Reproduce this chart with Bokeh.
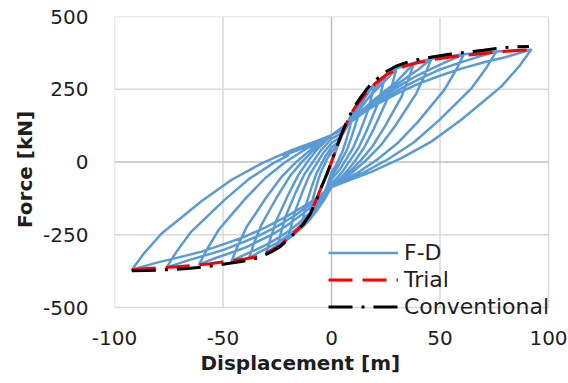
import numpy as np
from bokeh.plotting import figure
from bokeh.models import FixedTicker, Legend, LegendItem, Range1d, Title
from bokeh.embed import file_html
from bokeh.resources import INLINE

# ---- Force-displacement record, one closed cycle per displacement amplitude ----
START_X = [0, 5]
START_F = [0, 95]

CYC10_X = [10, 8.5, 6.5, 5, 2, 0, -2.2, -4.4, -6.5, -8.7, -10, -8.5, -6.5, -5, -2, 0, 2, 4, 6, 8, 10]
CYC10_F = [178, 120, 69, 35, -12, -35, -86, -124, -150, -169, -182, -123, -71, -37, 11, 35, 50, 80, 112, 145, 178]

CYC14_X = [14, 11.9, 9.1, 7, 2.8, 0, -3.1, -6.2, -9.1, -12.2, -14, -11.9, -9.1, -7, -2.8, 0, 3, 6, 9, 12, 14]
CYC14_F = [220, 148, 83, 40, -18, -48, -110, -155, -186, -209, -225, -151, -85, -41, 20, 50, 68, 105, 150, 192, 220]

CYC20_X = [20, 17, 13, 10, 4, 0, -4.4, -8.8, -13, -17.4, -20, -17, -13, -10, -4, 0, 4, 8, 12, 16, 20]
CYC20_F = [270, 181, 102, 49, -24, -60, -131, -182, -218, -244, -262, -174, -95, -43, 29, 65, 85, 130, 180, 228, 270]

CYC25_X = [25, 21.3, 16.3, 12.5, 5, 0, -5.5, -11, -16.3, -21.8, -25, -21.3, -16.3, -12.5, -5, 0, 5, 10, 15, 20, 25]
CYC25_F = [300, 199, 109, 49, -34, -75, -150, -205, -243, -271, -290, -190, -101, -42, 39, 80, 100, 150, 200, 250, 300]

CYC30_X = [30, 28.2, 25.5, 22.5, 19.5, 15, 10.5, 6, 2.4, 0,
           -3.3, -6.6, -9.9, -13.2, -16.5, -19.5, -22.8, -26.1, -30,
           -28.2, -25.5, -22.5, -19.5, -15, -10.5, -6, -2.4, 0,
           3.3, 6.6, 9.9, 13.2, 16.5, 19.5, 22.8, 26.1, 30]
CYC30_F = [322, 273, 212, 163, 114, 49, 0, -41, -68, -86,
           -129, -165, -197, -223, -244, -262, -278, -292, -312,
           -264, -203, -154, -106, -41, 7, 48, 74, 92,
           105, 125, 155, 185, 215, 240, 265, 290, 322]

CYC38_X = [38, 35.7, 32.3, 28.5, 24.7, 19, 13.3, 7.6, 3, 0,
           -4.2, -8.4, -12.5, -16.7, -20.9, -24.7, -28.9, -33.1, -38,
           -35.7, -32.3, -28.5, -24.7, -19, -13.3, -7.6, -3, 0,
           4.2, 8.4, 12.5, 16.7, 20.9, 24.7, 28.9, 33.1, 38]
CYC38_F = [340, 289, 225, 174, 123, 55, 4, -39, -67, -86,
           -132, -171, -206, -234, -257, -276, -293, -309, -330,
           -279, -216, -165, -115, -47, 3, 46, 73, 92,
           108, 135, 165, 195, 222, 245, 268, 300, 340]

CYC46_X = [46, 43.2, 39.1, 34.5, 29.9, 23, 16.1, 9.2, 3.7, 0,
           -5.1, -10.1, -15.2, -20.2, -25.3, -29.9, -35, -40, -46,
           -43.2, -39.1, -34.5, -29.9, -23, -16.1, -9.2, -3.7, 0,
           5.1, 10.1, 15.2, 20.2, 25.3, 29.9, 35, 40, 46]
CYC46_F = [355, 302, 236, 183, 130, 60, 7, -38, -66, -86,
           -134, -175, -211, -240, -264, -284, -302, -318, -340,
           -288, -223, -172, -120, -51, 1, 45, 73, 92,
           118, 150, 182, 212, 240, 265, 292, 318, 355]

CYC61_X = [61, 57.3, 51.9, 45.8, 39.7, 30.5, 21.4, 12.2, 4.9, 0,
           -6.7, -13.4, -20.1, -26.8, -33.6, -39.7, -46.4, -53.1, -61,
           -57.3, -51.9, -45.8, -39.7, -30.5, -21.4, -12.2, -4.9, 0,
           6.7, 13.4, 20.1, 26.8, 33.6, 39.7, 46.4, 53.1, 61]
CYC61_F = [370, 315, 247, 192, 137, 65, 10, -36, -66, -86,
           -137, -179, -216, -247, -272, -294, -312, -329, -352,
           -299, -232, -179, -126, -55, -1, 43, 72, 92,
           125, 165, 205, 240, 272, 298, 322, 345, 370]

CYC76_X = [76, 71.4, 64.6, 57, 49.4, 38, 26.6, 15.2, 6.1, 0,
           -8.4, -16.7, -25.1, -33.4, -41.8, -49.4, -57.8, -66.1, -76,
           -71.4, -64.6, -57, -49.4, -38, -26.6, -20, -22, -15.2, -6.1, 0,
           8.4, 16.7, 25.1, 33.4, 41.8, 49.4, 57.8, 66.1, 76]
CYC76_F = [380, 324, 254, 198, 142, 68, 12, -35, -65, -86,
           -138, -183, -221, -253, -279, -301, -320, -338, -362,
           -308, -239, -185, -131, -58, -3, 22, 22, 42, 72, 92,
           135, 180, 222, 258, 290, 316, 338, 358, 380]

CYC92_X = [92, 86.5, 78.2, 69, 59.8, 46, 32.2, 18.4, 7.4, 0,
           -10.1, -20.2, -30.4, -40.5, -50.6, -59.8, -69.9, -80, -92,
           -86.5, -78.2, -69, -59.8, -46, -32.2, -18.4, -7.4, 0,
           10.1, 20.2, 30.4, 40.5, 50.6, 59.8, 69.9, 80, 92]
CYC92_F = [386, 329, 259, 202, 145, 70, 13, -34, -65, -86,
           -140, -185, -225, -258, -285, -308, -327, -345, -370,
           -315, -245, -190, -134, -61, -5, 41, 71, 92,
           148, 195, 236, 270, 298, 321, 342, 360, 386]

# ---- Backbone curves ----
TRIAL_X = [-92, -85, -75, -65, -56, -47, -40, -34, -28, -23.5, -20, -16, -13, -10, -7, -4.5, -2,
           0, 2, 4, 6, 8, 10, 12, 14, 16, 18, 20, 25, 30, 35, 40, 47, 55, 61, 70, 76, 85, 92]
TRIAL_F = [-370, -366, -362, -356, -350, -340, -333, -325, -305, -286, -262, -235, -212, -180, -130, -82, -38,
           0, 42, 82, 118, 150, 178, 200, 218, 238, 256, 268, 298, 318, 332, 342, 352, 361, 366, 373, 378, 383, 386]

CONV_X = [-92, -85, -75, -65, -56, -47, -40, -34, -28, -23.5, -20, -16, -13, -10, -7, -4.5, -2,
          0, 2, 4, 6, 8, 10, 12, 14, 16, 18, 20, 25, 30, 35, 40, 47, 55, 61, 70, 76, 84, 91]
CONV_F = [-374, -373, -370, -365, -358, -348, -340, -330, -310, -290, -266, -238, -214, -182, -132, -84, -39,
          0, 43, 84, 121, 154, 183, 207, 228, 248, 266, 280, 310, 330, 343, 352, 362, 371, 376, 384, 390, 396, 397]

X_TICKS = [-100, -50, 0, 50, 100]
Y_TICKS = [-500, -250, 0, 250, 500]

cycles_x = [START_X, CYC10_X, CYC14_X, CYC20_X, CYC25_X, CYC30_X, CYC38_X, CYC46_X, CYC61_X, CYC76_X, CYC92_X]
cycles_f = [START_F, CYC10_F, CYC14_F, CYC20_F, CYC25_F, CYC30_F, CYC38_F, CYC46_F, CYC61_F, CYC76_F, CYC92_F]
fd_x = np.concatenate([np.asarray(c, float) for c in cycles_x])
fd_f = np.concatenate([np.asarray(c, float) for c in cycles_f])

FONT = "DejaVu Sans"
TEXT = "#1e1e1e"
GRID = "#d9d9d9"
ZERO = "#bfbfbf"

x_lo, x_hi = X_TICKS[0], X_TICKS[-1]
y_lo, y_hi = Y_TICKS[0], Y_TICKS[-1]

# The frame reaches a little past the lower and right chart edges so the legend
# can hang over them; the chart box itself is drawn from the tick lists.
PX_PER_X = 434 / (x_hi - x_lo)
PX_PER_Y = 291 / (y_hi - y_lo)
p = figure(width=568, height=383, output_backend="svg", toolbar_location=None,
           x_range=Range1d(x_lo, x_hi + 15 / PX_PER_X),
           y_range=Range1d(y_lo - 15 / PX_PER_Y, y_hi),
           min_border_left=114, min_border_right=5, min_border_top=16, min_border_bottom=61)
p.background_fill_color = "white"
p.border_fill_color = "white"
p.outline_line_color = None
p.xgrid.grid_line_color = None
p.ygrid.grid_line_color = None

# Gridlines and chart box
gx = [t for t in X_TICKS if t != 0]
gy = [t for t in Y_TICKS if t != 0]
grid = p.multi_line(xs=[[t, t] for t in gx] + [[x_lo, x_hi] for _ in gy],
                    ys=[[y_lo, y_hi] for _ in gx] + [[t, t] for t in gy],
                    line_color=GRID, line_width=1.5)
grid.level = "underlay"
zero = p.multi_line(xs=[[0, 0], [x_lo, x_hi]], ys=[[y_lo, y_hi], [0, 0]],
                    line_color=ZERO, line_width=1.5)
zero.level = "underlay"

for ax, ticks in ((p.xaxis, X_TICKS), (p.yaxis, Y_TICKS)):
    ax.ticker = FixedTicker(ticks=ticks)
    ax.major_label_overrides = {t: str(t) for t in ticks}
    ax.axis_line_color = None
    ax.major_tick_line_color = None
    ax.minor_tick_line_color = None
    ax.major_tick_out = 0
    ax.major_tick_in = 0
    ax.major_label_text_font = FONT
    ax.major_label_text_font_size = "20px"
    ax.major_label_text_color = TEXT

p.xaxis.major_label_standoff = 8
p.yaxis.major_label_standoff = 26

p.add_layout(Title(text="Displacement [m]", align="left", offset=86, standoff=2,
                   text_font=FONT, text_font_size="20px", text_font_style="bold",
                   text_color=TEXT), "below")
p.add_layout(Title(text="Force [kN]", align="center", offset=8, standoff=8,
                   text_font=FONT, text_font_size="20px", text_font_style="bold",
                   text_color=TEXT), "left")

r_fd = p.line(fd_x, fd_f, line_color="#5b9bd5", line_width=2.5, line_join="round")
r_trial = p.line(TRIAL_X, TRIAL_F, line_color="#ff0000", line_width=3, line_dash="24 10")
r_conv = p.line(CONV_X, CONV_F, line_color="#000000", line_width=3, line_dash="24 9 3 9")

legend = Legend(items=[LegendItem(label="F-D", renderers=[r_fd]),
                       LegendItem(label="Trial", renderers=[r_trial]),
                       LegendItem(label="Conventional", renderers=[r_conv])],
                location=(214, 2), orientation="vertical",
                glyph_width=70, glyph_height=27, label_height=27,
                spacing=0, padding=0, margin=0, label_standoff=6,
                background_fill_alpha=0, border_line_color=None,
                label_text_font=FONT, label_text_font_size="22px", label_text_color=TEXT)
p.add_layout(legend)

open("out.html", "w").write(file_html(p, INLINE))
